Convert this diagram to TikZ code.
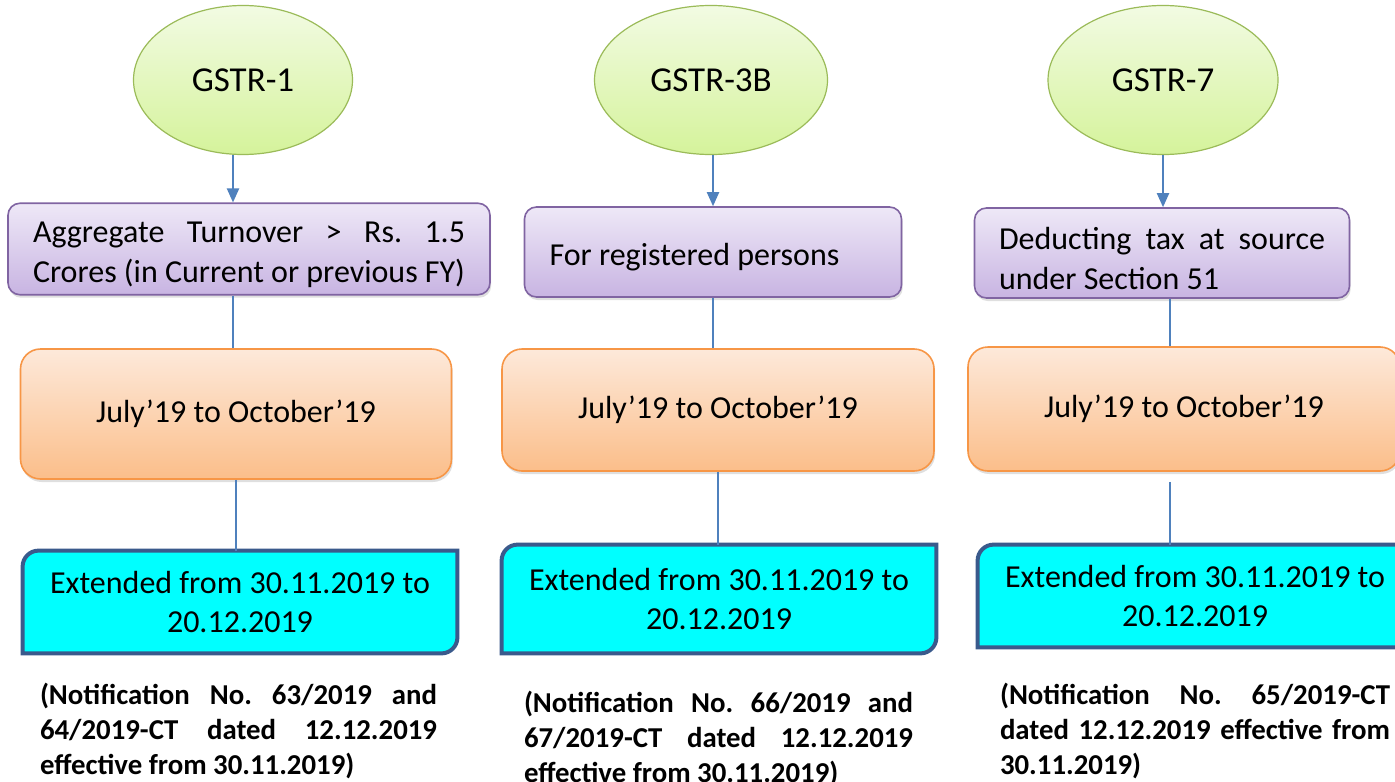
\documentclass[tikz,border=0pt]{standalone}
\usepackage{fontspec}
\setmainfont{Carlito}
\usepackage{xcolor}
\usepackage{tikz}
\usetikzlibrary{shapes,arrows,positioning,calc,shadows,backgrounds,arrows.meta}

\frenchspacing
\hyphenpenalty=10000
\exhyphenpenalty=10000
\hbadness=10000

\definecolor{linkblue}{HTML}{4F81BD}
\definecolor{ellline}{HTML}{9BBB59}
\definecolor{elltop}{HTML}{F2FBE3}
\definecolor{ellbot}{HTML}{D5F39B}
\definecolor{purpline}{HTML}{8064A2}
\definecolor{purptop}{HTML}{EEE8F7}
\definecolor{purpbot}{HTML}{C8B4E2}
\definecolor{orgline}{HTML}{F79646}
\definecolor{orgtop}{HTML}{FDE9DA}
\definecolor{orgbot}{HTML}{FBBE8A}
\definecolor{extline}{HTML}{3A5A8C}
\definecolor{extfill}{HTML}{00FFFF}

\tikzset{
    form/.style={ellipse, draw=ellline, line width=0.6pt, top color=elltop, bottom color=ellbot,
        font=\fontsize{17.5}{20}\selectfont},
    cond/.style={rectangle, rounded corners=6pt, draw=purpline, line width=0.8pt,
        top color=purptop, bottom color=purpbot, minimum height=45pt, align=justify,
        drop shadow={opacity=0.25, shadow xshift=0.6pt, shadow yshift=-1.5pt},
        execute at begin node={\rule{0pt}{16.5pt}},
        font=\fontsize{16}{20}\selectfont},
    period/.style={rectangle, rounded corners=10pt, draw=orgline, line width=0.8pt,
        top color=orgtop, bottom color=orgbot, align=center,
        drop shadow={opacity=0.25, shadow xshift=0.6pt, shadow yshift=-1.5pt},
        font=\fontsize{16}{20}\selectfont},
    ext/.style={rectangle, minimum width=217pt, align=center,
        font=\fontsize{16}{19.5}\selectfont},
    extedge/.style={draw=extline, fill=extfill, line width=2pt},
    note/.style={inner sep=0pt, align=justify, anchor=north,
        font=\fontsize{14.4}{17.5}\selectfont\bfseries},
    arr/.style={draw=linkblue, line width=1pt, -{Triangle[length=7pt,width=6pt]}},
    link/.style={draw=linkblue, line width=0.9pt}
}

\newcommand{\extframe}[1]{%
    \filldraw[extedge] ([xshift=8pt]#1.north west) -- (#1.north east) -- ([yshift=8pt]#1.south east)
        arc[start angle=0, end angle=-90, radius=8pt] -- (#1.south west) -- ([yshift=-8pt]#1.north west)
        arc[start angle=180, end angle=90, radius=8pt] -- cycle;}

\begin{document}
\begin{tikzpicture}[x=0.5pt,y=-0.5pt]
    \useasboundingbox (0,0) rectangle (1395,781);
    \clip (0,0) rectangle (1395,781);
    \coordinate (k1) at (233,0);
    \coordinate (k2) at (713,0);
    \coordinate (k3) at (1170,0);

    \node[form, minimum width=109.5pt, minimum height=74.5pt] (g1) at (243,80) {GSTR-1};
    \node[cond, minimum width=241pt, text width=216pt] (p1) at (249,249) {Aggregate Turnover > Rs. 1.5\linebreak Crores (in Current or previous FY)};
    \node[period, minimum width=215.5pt, minimum height=65pt] (o1) at (236,414) {July’19 to October’19};
    \node[ext, minimum height=51pt] (c1) at (240,602) {Extended from 30.11.2019 to\\ 20.12.2019};
    \node[note, text width=198.5pt] (n1) at (238.5,683) {(Notification No. 63/2019 and\linebreak 64/2019-CT dated 12.12.2019\linebreak effective from 30.11.2019)};

    \node[form, minimum width=116.5pt, minimum height=74.5pt] (g2) at (711,80) {GSTR-3B};
    \node[cond, minimum width=188.5pt, text width=163.5pt] (p2) at (713,252) {For registered persons};
    \node[period, minimum width=216pt, minimum height=61pt] (o2) at (718,410) {July’19 to October’19};
    \node[ext, minimum height=54pt] (c2) at (719,599) {Extended from 30.11.2019 to\\ 20.12.2019};
    \node[note, text width=194.5pt] (n2) at (718.5,691) {(Notification No. 66/2019 and\linebreak 67/2019-CT dated 12.12.2019\linebreak effective from 30.11.2019)};

    \node[form, minimum width=115pt, minimum height=74.5pt] (g3) at (1163,80) {GSTR-7};
    \node[cond, minimum width=187.5pt, text width=163pt] (p3) at (1162,253) {Deducting tax at source\linebreak under Section 51};
    \node[period, minimum width=216pt, minimum height=62pt] (o3) at (1184,409) {July’19 to October’19};
    \node[ext, minimum height=51pt] (c3) at (1195,596) {Extended from 30.11.2019 to\\ 20.12.2019};
    \node[note, text width=195pt] (n3) at (1195,683) {(Notification No. 65/2019-CT\linebreak dated 12.12.2019 effective from\linebreak 30.11.2019)};

    \begin{scope}[on background layer]
        \fill[white] (0,0) rectangle (1395,781);
        \extframe{c1}
        \extframe{c2}
        \extframe{c3}
    \end{scope}

    \draw[arr] (g1.south -| k1) -- (p1.north -| k1);
    \draw[link] (p1.south -| k1) -- (o1.north -| k1);
    \draw[link] (o1.south) -- (o1.south |- c1.north);

    \draw[arr] (g2.south -| k2) -- (p2.north -| k2);
    \draw[link] (p2.south -| k2) -- (o2.north -| k2);
    \draw[link] (o2.south) -- (o2.south |- c2.north);

    \draw[arr] (g3) -- (g3 |- p3.north);
    \draw[link] (p3.south -| k3) -- (o3.north -| k3);
    \draw[link, shorten <=5pt] (o3.south -| k3) -- (c3.north -| k3);
\end{tikzpicture}
\end{document}
